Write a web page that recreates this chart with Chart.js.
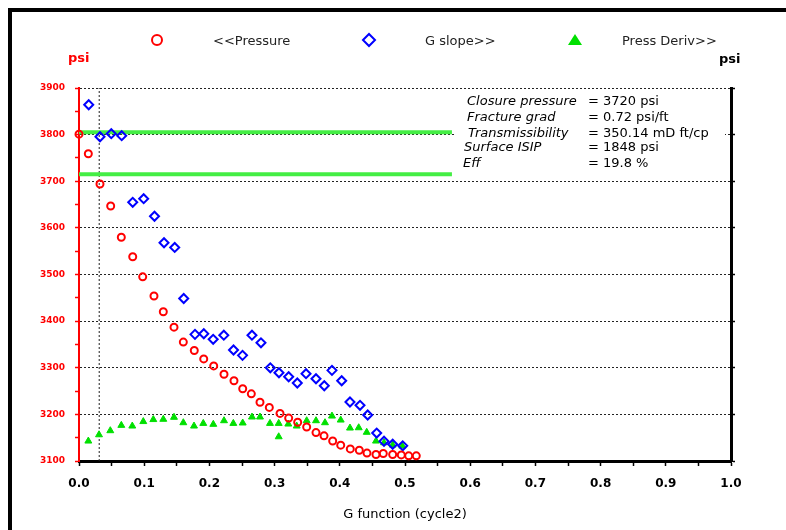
<!DOCTYPE html>
<html>
<head>
<meta charset="utf-8">
<script src="https://cdn.jsdelivr.net/npm/chart.js@4.4.0/dist/chart.umd.min.js"></script>
<style>
  body { margin: 0; background: #fff; }
  canvas { display: block; }
</style>
</head>
<body>
<canvas id="gFunctionChart" width="786" height="530"></canvas>
<script>
const pressureG = [0, 0.0143, 0.0322, 0.0486, 0.0649, 0.0824, 0.0977, 0.115, 0.1293, 0.1457, 0.16, 0.1768, 0.1913, 0.2066, 0.2224, 0.2377, 0.2511, 0.2643, 0.2776, 0.2919, 0.3083, 0.3216, 0.3354, 0.3492, 0.3635, 0.3758, 0.3891, 0.4014, 0.4161, 0.4299, 0.4417, 0.4555, 0.4667, 0.4811, 0.4943, 0.5057, 0.5173];
const pressure = [3801, 3759, 3694, 3647, 3580, 3538, 3495, 3454, 3420, 3387, 3355, 3337, 3319, 3304, 3286, 3272, 3255, 3244, 3226, 3215, 3202, 3192, 3183, 3173, 3161, 3154, 3143, 3134, 3126, 3123, 3117, 3114, 3116, 3114, 3113, 3111, 3111];

const slopeG = [0.0149, 0.0322, 0.0495, 0.0655, 0.0824, 0.0992, 0.1158, 0.1304, 0.1468, 0.1606, 0.1779, 0.1914, 0.2058, 0.2221, 0.237, 0.2508, 0.2653, 0.2791, 0.2934, 0.3067, 0.3216, 0.3348, 0.3482, 0.3635, 0.3762, 0.388, 0.4029, 0.4156, 0.431, 0.4428, 0.4566, 0.4678, 0.4811, 0.4965];
const gSlope = [3582, 3245, 3277, 3256, 2555, 2593, 2408, 2129, 2080, 1542, 1165, 1171, 1113, 1156, 1000, 944, 1156, 1076, 813, 761, 719, 653, 751, 698, 624, 786, 677, 453, 418, 316, 126, 40, 8, -8];

const derivG = [0.0143, 0.0307, 0.048, 0.0649, 0.0817, 0.0986, 0.114, 0.1293, 0.1457, 0.16, 0.1764, 0.1906, 0.206, 0.2224, 0.2367, 0.2511, 0.2653, 0.2776, 0.2929, 0.3063, 0.3063, 0.321, 0.3339, 0.3492, 0.3635, 0.3773, 0.388, 0.4014, 0.4156, 0.429, 0.4413, 0.4555, 0.4678, 0.4811, 0.4959];
const pressDeriv = [42, 108, 151, 207, 200, 247, 268, 271, 292, 235, 200, 228, 218, 256, 228, 232, 295, 295, 228, 228, 87, 221, 200, 256, 256, 235, 305, 263, 179, 182, 134, 42, 24, 0, -11];

const closureLineG = [0, 0.572];
const closureLines = [3805, 3715];
const closureMarkG = 0.031;

const legendLabels = ['<<Pressure', 'G slope>>', 'Press Deriv>>'];
const infoLabels = ['Closure pressure', 'Fracture grad', 'Transmissibility', 'Surface ISIP', 'Eff'];
const infoValues = ['= 3720 psi', '= 0.72 psi/ft', '= 350.14 mD ft/cp', '= 1848 psi', '= 19.8 %'];

const toPoints = (xs, ys) => xs.map((x, i) => ({ x: x, y: ys[i] }));

const fontFamily = '"DejaVu Sans", Verdana, sans-serif';
const dotted = '#222';

const decorations = {
    id: 'decorations',
    afterDraw(chart) {
        const ctx = chart.ctx;
        ctx.save();

        // frame of the page
        ctx.fillStyle = '#000';
        ctx.fillRect(8, 8, 4, 522);
        ctx.fillRect(8, 8, 778, 4);

        // units
        ctx.font = 'bold 13px ' + fontFamily;
        ctx.textBaseline = 'middle';
        ctx.fillStyle = '#ff0000';
        ctx.fillText('psi', 68, 59);
        ctx.fillStyle = '#000';
        ctx.fillText('psi', 719, 60);

        // legend
        ctx.lineWidth = 2;
        ctx.strokeStyle = '#ff0000';
        ctx.beginPath();
        ctx.arc(157, 40, 5, 0, Math.PI * 2);
        ctx.stroke();

        ctx.strokeStyle = '#0000ff';
        ctx.beginPath();
        ctx.moveTo(363, 40);
        ctx.lineTo(369, 34);
        ctx.lineTo(375, 40);
        ctx.lineTo(369, 46);
        ctx.closePath();
        ctx.stroke();

        ctx.fillStyle = '#00e000';
        ctx.beginPath();
        ctx.moveTo(575, 34);
        ctx.lineTo(582, 45);
        ctx.lineTo(568, 45);
        ctx.closePath();
        ctx.fill();

        ctx.font = '13px ' + fontFamily;
        ctx.fillStyle = '#222';
        ctx.fillText(legendLabels[0], 213, 42);
        ctx.fillText(legendLabels[1], 425, 42);
        ctx.fillText(legendLabels[2], 622, 42);

        // closure info box, white behind the text
        ctx.fillStyle = '#fff';
        ctx.fillRect(454, 91, 271, 87);
        const labelX = [467, 467, 468, 464, 463];
        const rowY = [102, 117.5, 134, 148, 164];
        ctx.fillStyle = '#000';
        infoLabels.forEach((label, i) => {
            ctx.font = 'italic 13px ' + fontFamily;
            ctx.fillText(label, labelX[i], rowY[i]);
            ctx.font = '13px ' + fontFamily;
            ctx.fillText(infoValues[i], 588, rowY[i]);
        });

        ctx.restore();
    }
};

const ctx = document.getElementById('gFunctionChart').getContext('2d');
const gFunctionChart = new Chart(ctx, {
    type: 'scatter',
    data: {
        datasets: [{
            label: legendLabels[0],
            data: toPoints(pressureG, pressure),
            yAxisID: 'y',
            pointStyle: 'circle',
            pointRadius: 3.5,
            borderWidth: 2,
            borderColor: '#ff0000',
            backgroundColor: 'rgba(0,0,0,0)',
            clip: false,
            order: 1
        },
        {
            label: legendLabels[1],
            data: toPoints(slopeG, gSlope),
            yAxisID: 'y2',
            pointStyle: 'rectRot',
            pointRadius: 4.5,
            borderWidth: 2,
            borderColor: '#0000ff',
            backgroundColor: 'rgba(0,0,0,0)',
            clip: false,
            order: 2
        },
        {
            label: legendLabels[2],
            data: toPoints(derivG, pressDeriv),
            yAxisID: 'y2',
            pointStyle: 'triangle',
            pointRadius: 4,
            borderWidth: 1,
            borderColor: '#00e000',
            backgroundColor: '#00e000',
            order: 3
        },
        {
            type: 'line',
            data: toPoints(closureLineG, [closureLines[0], closureLines[0]]),
            yAxisID: 'y',
            borderColor: '#44ee44',
            borderWidth: 4,
            pointRadius: 0,
            order: 4
        },
        {
            type: 'line',
            data: toPoints(closureLineG, [closureLines[1], closureLines[1]]),
            yAxisID: 'y',
            borderColor: '#44ee44',
            borderWidth: 4,
            pointRadius: 0,
            order: 4
        },
        {
            type: 'line',
            data: toPoints([closureMarkG, closureMarkG], [3100, 3900]),
            yAxisID: 'y',
            borderColor: dotted,
            borderWidth: 1,
            borderDash: [2, 2],
            pointRadius: 0,
            order: 5
        }]
    },
    options: {
        responsive: false,
        animation: false,
        devicePixelRatio: 1,
        events: [],
        layout: {
            padding: { top: 88, left: 0, right: 0, bottom: 0 }
        },
        scales: {
            x: {
                type: 'linear',
                position: 'bottom',
                min: 0,
                max: 1,
                afterFit: (scale) => { scale.height = 69; },
                ticks: {
                    stepSize: 0.05,
                    autoSkip: false,
                    maxRotation: 0,
                    padding: 11,
                    color: '#000',
                    font: { family: fontFamily, size: 12, weight: 'bold' },
                    callback: (v) => Math.round(v * 100) % 10 === 0 ? v.toFixed(1) : ''
                },
                grid: {
                    drawOnChartArea: false,
                    tickLength: 5,
                    tickColor: '#000',
                    tickWidth: 1.5
                },
                border: { color: '#000', width: 3 },
                title: {
                    display: true,
                    text: 'G function (cycle2)',
                    color: '#000',
                    font: { family: fontFamily, size: 13 },
                    padding: { top: 0, bottom: 8 }
                }
            },
            y: {
                position: 'left',
                min: 3100,
                max: 3900,
                afterFit: (scale) => { scale.width = 79; },
                ticks: {
                    stepSize: 50,
                    autoSkip: false,
                    padding: 10,
                    color: '#ff0000',
                    font: { family: fontFamily, size: 9, weight: 'bold' },
                    callback: (v) => v % 100 === 0 ? v : ''
                },
                grid: {
                    color: (c) => (c.tick && c.tick.value % 100 === 0 && c.tick.value > 3100) ? dotted : 'rgba(0,0,0,0)',
                    lineWidth: 1,
                    tickLength: 4,
                    tickColor: '#ff0000',
                    tickWidth: 1.5
                },
                border: { color: '#ff0000', width: 2, dash: [2, 2] }
            },
            y2: {
                position: 'right',
                min: -168,
                max: 3758,
                afterFit: (scale) => { scale.width = 55; },
                ticks: {
                    stepSize: 500,
                    includeBounds: false,
                    autoSkip: false,
                    padding: 6,
                    color: '#000',
                    font: { family: fontFamily, size: 13, weight: 'bold' },
                    callback: (v) => (v % 1000 === 0 && v >= 0 && v <= 3000) ? v : ''
                },
                grid: {
                    drawOnChartArea: false,
                    tickLength: 4,
                    tickColor: '#000',
                    tickWidth: 1.5
                },
                border: { color: '#000', width: 3 }
            }
        },
        plugins: {
            legend: { display: false },
            tooltip: { enabled: false }
        }
    },
    plugins: [decorations]
});
</script>
</body>
</html>
